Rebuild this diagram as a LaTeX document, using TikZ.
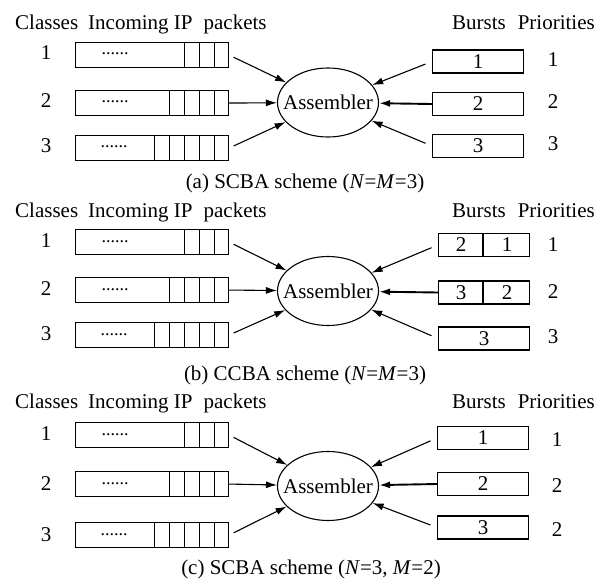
\documentclass[tikz,border=0pt]{standalone}
\usepackage{fontspec}
\setmainfont{Liberation Serif}
\usetikzlibrary{arrows.meta,shapes.geometric}

\tikzset{
  lbl/.style={inner sep=0pt, font=\fontsize{21}{25}\selectfont},
  queue/.style={draw, line width=1.1pt, rectangle, inner sep=0pt,
    minimum width=153pt, minimum height=25pt, anchor=north west},
  burst/.style={draw, line width=1.1pt, rectangle, inner sep=0pt,
    minimum width=91pt, minimum height=23pt, font=\fontsize{21}{25}\selectfont},
  asmb/.style={draw, line width=1.1pt, ellipse, inner sep=0pt,
    minimum width=101pt, minimum height=69pt, font=\fontsize{21}{25}\selectfont},
  dots/.style={inner sep=0pt, font=\fontsize{18}{20}\selectfont},
  arr/.style={line width=1.1pt, -{Latex[length=11pt,width=7pt]}},
  arrb/.style={line width=1.9pt, -{Latex[length=11pt,width=7pt]}},
  cell/.style={line width=1.1pt}
}

% packet cells at the right end of a queue
\newcommand{\cells}[2]{%
  \foreach \k in {1,...,#2} {
    \draw[cell] ([xshift=-\k*15pt]#1.north east) -- ([xshift=-\k*15pt]#1.south east);
  }}
% column headings
\newcommand{\lefthead}{Classes\hspace{10pt}Incoming IP\hspace{11pt}packets}
\newcommand{\righthead}{Bursts\hspace{12pt}Priorities}

\begin{document}
\begin{tikzpicture}[x=1pt, y=-1pt]
\useasboundingbox (0,0) rectangle (605,581);

% ---------------- (a) SCBA, N=M=3 ----------------
\node[lbl, anchor=base west] (ha) at (15,29) {\lefthead};
\node[lbl, anchor=base east] (hba) at (595,29) {\righthead};

\node[lbl] (ca1) at (46,53) {1};
\node[lbl] (ca2) at (46,101) {2};
\node[lbl] (ca3) at (46,146) {3};

\node[queue] (qa1) at (75,42) {};
\node[queue] (qa2) at (75,90) {};
\node[queue] (qa3) at (75,135) {};
\cells{qa1}{3}\cells{qa2}{4}\cells{qa3}{5}
\node[dots] (da1) at (115,54) {......};
\node[dots] (da2) at (115,102) {......};
\node[dots] (da3) at (114,147) {......};

\node[asmb] (asa) at (328,102.5) {\makebox[0pt]{Assembler}};

\node[burst] (ba1) at (478,61.5) {1};
\node[burst] (ba2) at (478,104) {2};
\node[burst] (ba3) at (478,146) {3};

\node[lbl] (pa1) at (553,60) {1};
\node[lbl] (pa2) at (553,102) {2};
\node[lbl] (pa3) at (553,144) {3};

\draw[arr, shorten <=5pt] (qa1.east) -- (asa);
\draw[arr] (qa2.east) -- (asa);
\draw[arr, shorten <=5pt] (qa3.east) -- (asa);
\draw[arr, shorten <=7pt] (ba1.west) -- (asa);
\draw[arrb] (ba2.west) -- (asa);
\draw[arr, shorten <=7pt] (ba3.west) -- (asa);

\node[lbl, anchor=base] (capa) at (305,188) {(a) SCBA scheme (\textit{N}=\textit{M}=3)};

% ---------------- (b) CCBA, N=M=3 ----------------
\node[lbl, anchor=base west] (hb) at (15,217) {\lefthead};
\node[lbl, anchor=base east] (hbb) at (595,217) {\righthead};

\node[lbl] (cb1) at (46,241) {1};
\node[lbl] (cb2) at (46,289) {2};
\node[lbl] (cb3) at (46,334) {3};

\node[queue] (qb1) at (75,229) {};
\node[queue] (qb2) at (75,277) {};
\node[queue] (qb3) at (75,322) {};
\cells{qb1}{3}\cells{qb2}{4}\cells{qb3}{5}
\node[dots] (db1) at (115,241.5) {......};
\node[dots] (db2) at (115,289.5) {......};
\node[dots] (db3) at (114,334.5) {......};

\node[asmb] (asb) at (328,291) {\makebox[0pt]{Assembler}};

\node[burst] (bb1) at (484,245) {};
\node[burst] (bb2) at (484,292.5) {};
\node[burst] (bb3) at (484,338.5) {3};
\draw[cell] ([xshift=45pt]bb1.north west) -- ([xshift=45pt]bb1.south west);
\draw[cell] ([xshift=45pt]bb2.north west) -- ([xshift=45pt]bb2.south west);
\node[lbl] (bb1l) at (461,245) {2};
\node[lbl] (bb1r) at (507,245) {1};
\node[lbl] (bb2l) at (461,292.5) {3};
\node[lbl] (bb2r) at (507,292.5) {2};

\node[lbl] (pb1) at (553,245) {1};
\node[lbl] (pb2) at (553,292) {2};
\node[lbl] (pb3) at (553,337) {3};

\draw[arr, shorten <=5pt] (qb1.east) -- (asb);
\draw[arr] (qb2.east) -- (asb);
\draw[arr, shorten <=5pt] (qb3.east) -- (asb);
\draw[arr, shorten <=7pt] (bb1.west) -- (asb);
\draw[arrb] (bb2.west) -- (asb);
\draw[arr, shorten <=7pt] (bb3.west) -- (asb);

\node[lbl, anchor=base] (capb) at (305,380) {(b) CCBA scheme (\textit{N}=\textit{M}=3)};

% ---------------- (c) SCBA, N=3, M=2 ----------------
\node[lbl, anchor=base west] (hc) at (15,408) {\lefthead};
\node[lbl, anchor=base east] (hbc) at (595,408) {\righthead};

\node[lbl] (cc1) at (46,434) {1};
\node[lbl] (cc2) at (46,484) {2};
\node[lbl] (cc3) at (46,535) {3};

\node[queue] (qc1) at (75,422) {};
\node[queue] (qc2) at (75,471) {};
\node[queue] (qc3) at (75,522) {};
\cells{qc1}{3}\cells{qc2}{4}\cells{qc3}{5}
\node[dots] (dc1) at (115,434.5) {......};
\node[dots] (dc2) at (115,483.5) {......};
\node[dots] (dc3) at (114,534.5) {......};

\node[asmb] (asc) at (328,486) {\makebox[0pt]{Assembler}};

\node[burst] (bc1) at (483,438) {1};
\node[burst] (bc2) at (483,484) {2};
\node[burst] (bc3) at (483,527.5) {3};

\node[lbl] (pc1) at (557,440) {1};
\node[lbl] (pc2) at (557,486) {2};
\node[lbl] (pc3) at (557,530) {2};

\draw[arr, shorten <=5pt] (qc1.east) -- (asc);
\draw[arr] (qc2.east) -- (asc);
\draw[arr, shorten <=5pt] (qc3.east) -- (asc);
\draw[arr, shorten <=7pt] (bc1.west) -- (asc);
\draw[arrb] (bc2.west) -- (asc);
\draw[arr, shorten <=7pt] (bc3.west) -- (asc);

\node[lbl, anchor=base] (capc) at (311,574) {(c) SCBA scheme (\textit{N}=3, \textit{M}=2)};
\end{tikzpicture}
\end{document}
